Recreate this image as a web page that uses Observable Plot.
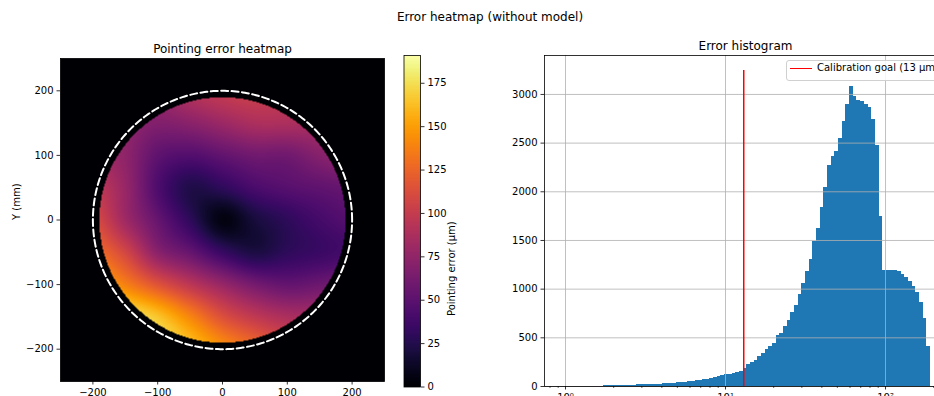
<!DOCTYPE html>
<html>
<head>
<meta charset="utf-8">
<script src="https://cdn.jsdelivr.net/npm/d3@7"></script>
<script src="https://cdn.jsdelivr.net/npm/@observablehq/plot@0.6"></script>
<style>
  html, body { margin: 0; padding: 0; background: #fff; }
  body { width: 934px; height: 396px; overflow: hidden; position: relative; font-family: "DejaVu Sans", sans-serif; color: #000; }
  .abs { position: absolute; top: 0; }
  #title { position: absolute; left: 0; top: 11px; width: 980px; text-align: center; font-size: 12px; line-height: 12px; }
  #legend { position: absolute; left: 786px; top: 60px; width: 154px; height: 19px; border: 1px solid #d0d0d0; border-radius: 3px; background: rgba(255,255,255,0.85); }
  #legend .sw { position: absolute; left: 2.5px; top: 6.5px; width: 22px; height: 1.5px; background: #ff0000; }
  #legend .tx { position: absolute; left: 30px; top: 1.5px; font-size: 10px; line-height: 10px; white-space: nowrap; }
</style>
</head>
<body>
<div id="title">Error heatmap (without model)</div>
<div id="heat" class="abs" style="left:0px;width:400px"></div>
<div id="cbar" class="abs" style="left:380px;width:110px"></div>
<div id="hist" class="abs" style="left:500px;width:456px"></div>
<div id="legend"><div class="sw"></div><span class="tx">Calibration goal (13 µm)</span></div>
<script>
// ---------------- data ----------------
// Heatmap: pointing error (µm) read on a 50 mm grid (rows: Y from 200 to -200, cols: X from -200 to 200)
const gridX = [-200, -150, -100, -50, 0, 50, 100, 150, 200];
const gridY = [200, 150, 100, 50, 0, -50, -100, -150, -200];
const errorGrid = [
  [ 82,  82,  80,  92, 100, 102,  97,  90,  85],
  [ 82,  76,  68,  72,  80,  88,  88,  85,  82],
  [ 84,  74,  52,  46,  53,  60,  60,  70,  76],
  [ 98,  78,  44,  24,  30,  42,  48,  52,  56],
  [112,  82,  55,  30,   6,  20,  30,  40,  47],
  [130, 108,  72,  55,  34,  22,  30,  35,  40],
  [158, 138, 116,  96,  78,  62,  54,  58,  64],
  [188, 180, 165, 140, 114,  98,  88,  86,  90],
  [195, 190, 180, 165, 145, 128, 110, 100, 100]
];
const diskRadius = 190;       // mm, measured area
const goalCircleRadius = 200; // mm, dashed circle
const errorMax = 191;         // µm, colorbar top
const colorTicks = [0, 25, 50, 75, 100, 125, 150, 175];
const posTicks = [-200, -100, 0, 100, 200];

// Histogram: 100 log-spaced bins between histMin and histMax (µm)
const histMin = 0.964, histMax = 191;
const counts = [
  1, 0, 1, 1, 2, 2, 3, 3, 4, 5,
  5, 6, 7, 8, 9, 10, 11, 12, 13, 14,
  16, 17, 18, 20, 21, 23, 25, 27, 29, 31,
  34, 37, 40, 44, 48, 53, 58, 63, 68, 75,
  85, 96, 103, 110, 119, 128, 137, 145, 155, 182,
  225, 242, 272, 305, 340, 375, 410, 440, 520, 545,
  620, 680, 755, 830, 950, 1060, 1180, 1300, 1490, 1625,
  1836, 2048, 2270, 2365, 2416, 2546, 2717, 2894, 3078, 2980,
  2935, 2928, 2901, 2867, 2741, 2478, 1751, 1195, 1188, 1188,
  1195, 1181, 1154, 1120, 1079, 1024, 962, 863, 703, 410
];
const countTicks = [0, 500, 1000, 1500, 2000, 2500, 3000];
const goal = 13;          // µm
const goalLineTop = 3245; // count
const majorLog = [1, 10, 100];
const majorLogLabels = ["10\u2070", "10\u00b9", "10\u00b2"];

// ---------------- helpers ----------------
const font = {fontFamily: "DejaVu Sans, sans-serif", fontSize: "10px", background: "transparent", maxWidth: "none", overflow: "visible", color: "black"};
const colorScale = {type: "linear", scheme: "inferno", domain: [0, errorMax]};

function cr(t) {
  const t2 = t * t, t3 = t2 * t;
  return [(-t3 + 2 * t2 - t) / 2, (3 * t3 - 5 * t2 + 2) / 2, (-3 * t3 + 4 * t2 + t) / 2, (t3 - t2) / 2];
}
const nR = gridY.length, nC = gridX.length;
const step = gridX[1] - gridX[0];
function g(r, c) {
  r = Math.max(0, Math.min(nR - 1, r));
  c = Math.max(0, Math.min(nC - 1, c));
  return errorGrid[r][c];
}
function errorAt(x, y) {
  if (Math.hypot(x, y) > diskRadius) return 0;
  const fc = (x - gridX[0]) / step, fr = (gridY[0] - y) / step;
  const c = Math.floor(fc), r = Math.floor(fr);
  const wx = cr(fc - c), wy = cr(fr - r);
  let v = 0;
  for (let n = 0; n < 4; n++) {
    let row = 0;
    for (let m = 0; m < 4; m++) row += g(r - 1 + n, c - 1 + m) * wx[m];
    v += row * wy[n];
  }
  return Math.max(0, Math.min(errorMax, v));
}

// ---------------- heatmap ----------------
const circle = d3.range(0, 361, 1).map(a => ({
  x: goalCircleRadius * Math.cos(a * Math.PI / 180),
  y: goalCircleRadius * Math.sin(a * Math.PI / 180)
}));

const heat = Plot.plot({
  width: 400, height: 420,
  marginLeft: 60, marginRight: 16, marginTop: 58, marginBottom: 39,
  style: font,
  x: {domain: [-250, 250]},
  y: {domain: [-250, 250]},
  color: colorScale,
  marks: [
    Plot.raster({fill: errorAt, x1: -250, x2: 250, y1: -250, y2: 250, pixelSize: 1}),
    Plot.line(circle, {x: "x", y: "y", stroke: "white", strokeWidth: 2, strokeDasharray: "7,3.4"}),
    Plot.frame({stroke: "black", strokeWidth: 0.8}),
    Plot.axisX({ticks: posTicks, tickSize: 3.5, tickPadding: 3.5, strokeWidth: 0.8, label: null, fontSize: 10}),
    Plot.axisY({ticks: posTicks, tickSize: 3.5, tickPadding: 3.5, strokeWidth: 0.8, label: null, fontSize: 10}),
    Plot.text(["Y (mm)"], {frameAnchor: "left", rotate: -90, dx: -44, fontSize: 10}),
    Plot.text(["Pointing error heatmap"], {frameAnchor: "top", dy: -14, fontSize: 12})
  ]
});
document.getElementById("heat").append(heat);

// ---------------- colorbar ----------------
const cbar = Plot.plot({
  width: 110, height: 400,
  marginLeft: 23.5, marginRight: 70, marginTop: 55, marginBottom: 13.5,
  style: font,
  x: {domain: [0, 1], axis: null},
  y: {domain: [0, errorMax], axis: null},
  color: colorScale,
  marks: [
    Plot.raster({fill: (x, y) => y, x1: 0, x2: 1, y1: 0, y2: errorMax, pixelSize: 1}),
    Plot.frame({stroke: "black", strokeWidth: 0.8}),
    Plot.axisY({anchor: "right", ticks: colorTicks, tickSize: 3.5, tickPadding: 3.5, strokeWidth: 0.8, label: null, fontSize: 10}),
    Plot.text(["Pointing error (µm)"], {frameAnchor: "right", rotate: -90, dx: 31, fontSize: 10})
  ]
});
document.getElementById("cbar").append(cbar);

// ---------------- histogram ----------------
const lo = Math.log10(histMin), hi = Math.log10(histMax);
const bins = counts.map((c, i) => ({
  x0: Math.pow(10, lo + (hi - lo) * i / counts.length),
  x1: Math.pow(10, lo + (hi - lo) * (i + 1) / counts.length),
  count: c
}));
const minorLog = [0.8, 0.9].concat(d3.range(2, 10), d3.range(20, 100, 10), [200]);

const hist = Plot.plot({
  width: 456, height: 416,
  marginLeft: 44, marginRight: 10, marginTop: 55, marginBottom: 30,
  style: font,
  x: {type: "log", domain: [0.7391, 240.5]},
  y: {domain: [0, 3400]},
  marks: [
    Plot.rectY(bins, {x1: "x0", x2: "x1", y: "count", fill: "#1f77b4", shapeRendering: "crispEdges"}),
    Plot.gridX({ticks: majorLog, stroke: "#b0b0b0", strokeOpacity: 1, strokeWidth: 0.8}),
    Plot.gridY({ticks: countTicks, stroke: "#b0b0b0", strokeOpacity: 1, strokeWidth: 0.8}),
    Plot.ruleX([goal], {y1: 0, y2: goalLineTop, stroke: "#ff0000", strokeWidth: 1.5}),
    Plot.frame({stroke: "black", strokeWidth: 0.8}),
    Plot.axisX({ticks: minorLog, tickSize: 2, strokeWidth: 0.6, tickFormat: () => "", label: null}),
    Plot.axisX({ticks: majorLog, tickSize: 3.5, tickPadding: 3.5, strokeWidth: 0.8, label: null, fontSize: 10,
      tickFormat: d => majorLogLabels[majorLog.indexOf(d)]}),
    Plot.axisY({ticks: countTicks, tickSize: 3.5, tickPadding: 3.5, strokeWidth: 0.8, label: null, fontSize: 10, tickFormat: d3.format("d")}),
    Plot.text(["Error histogram"], {frameAnchor: "top", dy: -14, fontSize: 12})
  ]
});
document.getElementById("hist").append(hist);
</script>
</body>
</html>
